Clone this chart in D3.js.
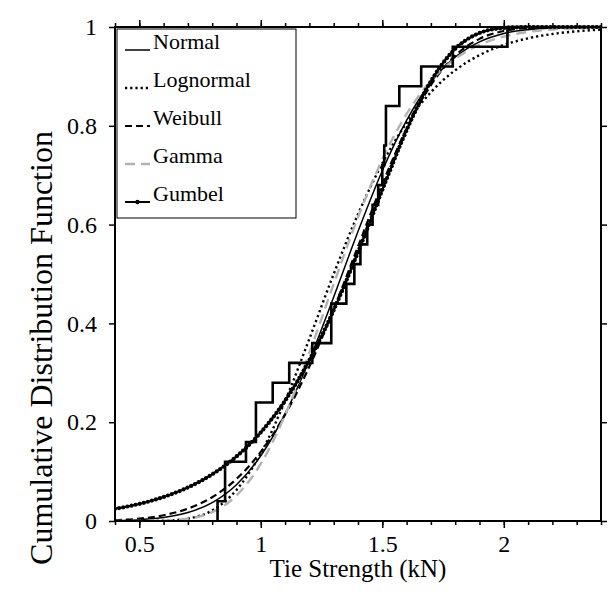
<!DOCTYPE html>
<html><head><meta charset="utf-8">
<script src="https://cdn.jsdelivr.net/npm/d3@7"></script>
<style>
body{margin:0;background:#fff}
svg{display:block}
</style>
</head><body>
<svg id="chart" width="613" height="599" font-family="Liberation Serif"></svg>
<script>
// ---- data ----
const xGrid      = [0.4,0.5,0.6,0.7,0.8,0.9,1.0,1.1,1.2,1.3,1.4,1.5,1.6,1.7,1.8,1.9,2.0,2.1,2.2,2.3,2.4];
const normalCdf  = [0.0009,0.0027,0.0071,0.0171,0.0373,0.0735,0.132,0.217,0.326,0.4535,0.586,0.709,0.811,0.888,0.939,0.970,0.987,0.9946,0.998,0.9994,0.9998];
const lognormCdf = [0.0000,0.0000,0.0006,0.0049,0.0215,0.0628,0.137,0.243,0.369,0.500,0.621,0.724,0.806,0.868,0.9125,0.943,0.9637,0.9771,0.9858,0.9913,0.9947];
const weibullCdf = [0.0015,0.0047,0.0117,0.0250,0.0482,0.0852,0.140,0.2155,0.3127,0.4286,0.5555,0.6817,0.7942,0.8824,0.942,0.976,0.992,0.9979,0.9996,0.9999,1.0];
const gammaCdf   = [0.0000,0.0001,0.0008,0.0047,0.018,0.0517,0.116,0.2145,0.341,0.480,0.615,0.732,0.824,0.891,0.9356,0.964,0.9805,0.990,0.995,0.9976,0.9989];
const gumbelCdf  = [0.0247,0.0346,0.0486,0.0679,0.0945,0.1306,0.1794,0.2436,0.3258,0.4268,0.5442,0.6701,0.7911,0.8903,0.9558,0.9878,0.998,0.9998,1.0,1.0,1.0];
// sorted test results (kN) for the empirical CDF staircase
const samples    = [0.822,0.853,0.853,0.939,0.98,0.98,1.049,1.117,1.212,1.29,1.29,1.352,1.385,1.41,1.438,1.46,1.483,1.50,1.508,1.515,1.515,1.57,1.66,1.79,2.015];
const xTicks      = [0.5,1,1.5,2];
const xTickLabels = ["0.5","1","1.5","2"];
const xMinorTicks = [0.4,0.5,0.6,0.7,0.8,0.9,1.0,1.1,1.2,1.3,1.4,1.5,1.6,1.7,1.8,1.9,2.0,2.1,2.2,2.3,2.4];
const yTicks      = [0,0.2,0.4,0.6,0.8,1];
const yTickLabels = ["0","0.2","0.4","0.6","0.8","1"];
const seriesNames = ["Normal","Lognormal","Weibull","Gamma","Gumbel"];
const xTitle = "Tie Strength (kN)";
const yTitle = "Cumulative Distribution Function";

const FONT = "Liberation Serif";

// ---- layout ----
const L = 115, R = 601, T = 27, B = 521;
const svg = d3.select("#chart");
const x = d3.scaleLinear().domain([0.4,2.4]).range([L,R]);
const y = d3.scaleLinear().domain([0,1]).range([B,T]);

svg.append("defs").append("clipPath").attr("id","clip")
  .append("rect").attr("x",L).attr("y",T-3).attr("width",R-L).attr("height",B-T+3);

const styles = {
  Normal:    {stroke:"#000", width:1.5, dash:null},
  Lognormal: {stroke:"#000", width:2.4, dash:"2.2,3"},
  Weibull:   {stroke:"#000", width:2.2, dash:"7,4"},
  Gamma:     {stroke:"#b3b3b3", width:2.4, dash:"10,6"},
  Gumbel:    {stroke:"#000", width:2,   dash:null}
};
const seriesData = {
  Normal: normalCdf, Lognormal: lognormCdf, Weibull: weibullCdf, Gamma: gammaCdf, Gumbel: gumbelCdf
};

const plot = svg.append("g").attr("clip-path","url(#clip)");
const line = d3.line().x(d=>x(d[0])).y(d=>y(d[1])).curve(d3.curveMonotoneX);

seriesNames.forEach(name=>{
  const st = styles[name];
  const pts = xGrid.map((xv,i)=>[xv, seriesData[name][i]]);
  const p = plot.append("path").datum(pts)
    .attr("d",line).attr("fill","none")
    .attr("stroke",st.stroke).attr("stroke-width",st.width)
    .attr("stroke-dasharray",st.dash);
  if(name==="Gumbel"){
    const node = p.node(), len = node.getTotalLength();
    for(let s=0; s<=len; s+=4.2){
      const q = node.getPointAtLength(s);
      plot.append("circle").attr("cx",q.x).attr("cy",q.y).attr("r",2.1).attr("fill","#000");
    }
  }
});

// empirical CDF staircase
const n = samples.length;
const stepPts = [[samples[0],0]].concat(samples.map((v,i)=>[v,(i+1)/n]));
stepPts.push([2.4,1]);
plot.append("path").datum(stepPts)
  .attr("d", d3.line().x(d=>x(d[0])).y(d=>y(d[1])).curve(d3.curveStepAfter))
  .attr("fill","none").attr("stroke","#000").attr("stroke-width",2.6);

// ---- axes ----
function styleAxis(g){
  g.attr("font-family",FONT).attr("font-size",24);
  g.select(".domain").remove();
  g.selectAll("line").attr("stroke","#000").attr("stroke-width",1.5);
  g.selectAll("text").attr("font-family",FONT).attr("font-size",24).attr("fill","#000");
}
svg.append("g").attr("transform",`translate(0,${B})`)
  .call(d3.axisBottom(x).tickValues(xMinorTicks).tickSize(4).tickFormat("")).call(styleAxis);
svg.append("g").attr("transform",`translate(0,${B})`)
  .call(d3.axisBottom(x).tickValues(xTicks).tickSize(7).tickPadding(7).tickFormat((d,i)=>xTickLabels[i])).call(styleAxis);
svg.append("g").attr("transform",`translate(0,${T})`)
  .call(d3.axisTop(x).tickValues(xMinorTicks).tickSize(4).tickFormat("")).call(styleAxis);
svg.append("g").attr("transform",`translate(0,${T})`)
  .call(d3.axisTop(x).tickValues(xTicks).tickSize(7).tickFormat("")).call(styleAxis);
svg.append("g").attr("transform",`translate(${L},0)`)
  .call(d3.axisLeft(y).tickValues(yTicks).tickSize(6).tickPadding(12).tickFormat((d,i)=>yTickLabels[i])).call(styleAxis);
svg.append("g").attr("transform",`translate(${R},0)`)
  .call(d3.axisRight(y).tickValues(yTicks).tickSize(6).tickFormat("")).call(styleAxis);

svg.append("rect").attr("x",L).attr("y",T).attr("width",R-L).attr("height",B-T)
  .attr("fill","none").attr("stroke","#000").attr("stroke-width",2);

// ---- titles ----
svg.append("text").attr("x",(L+R)/2).attr("y",577).attr("text-anchor","middle")
  .attr("font-family",FONT).attr("font-size",25).attr("fill","#000").text(xTitle);
svg.append("text").attr("transform",`translate(52,348) rotate(-90)`)
  .attr("text-anchor","middle").attr("font-family",FONT).attr("font-size",32).attr("fill","#000").text(yTitle);

// ---- legend ----
const lg = svg.append("g");
lg.append("rect").attr("x",117).attr("y",29).attr("width",179).attr("height",189)
  .attr("fill","#fff").attr("stroke","#000").attr("stroke-width",1);
seriesNames.forEach((name,i)=>{
  const st = styles[name];
  const yy = 50 + i*38;
  lg.append("line").attr("x1",125).attr("x2",150).attr("y1",yy).attr("y2",yy)
    .attr("stroke",st.stroke).attr("stroke-width",st.width).attr("stroke-dasharray",st.dash);
  if(name==="Gumbel") lg.append("circle").attr("cx",137.5).attr("cy",yy).attr("r",2.2).attr("fill","#000");
  lg.append("text").attr("x",153).attr("y",yy-1).attr("font-family",FONT).attr("font-size",22).attr("fill","#000").text(name);
});
</script>
</body></html>
